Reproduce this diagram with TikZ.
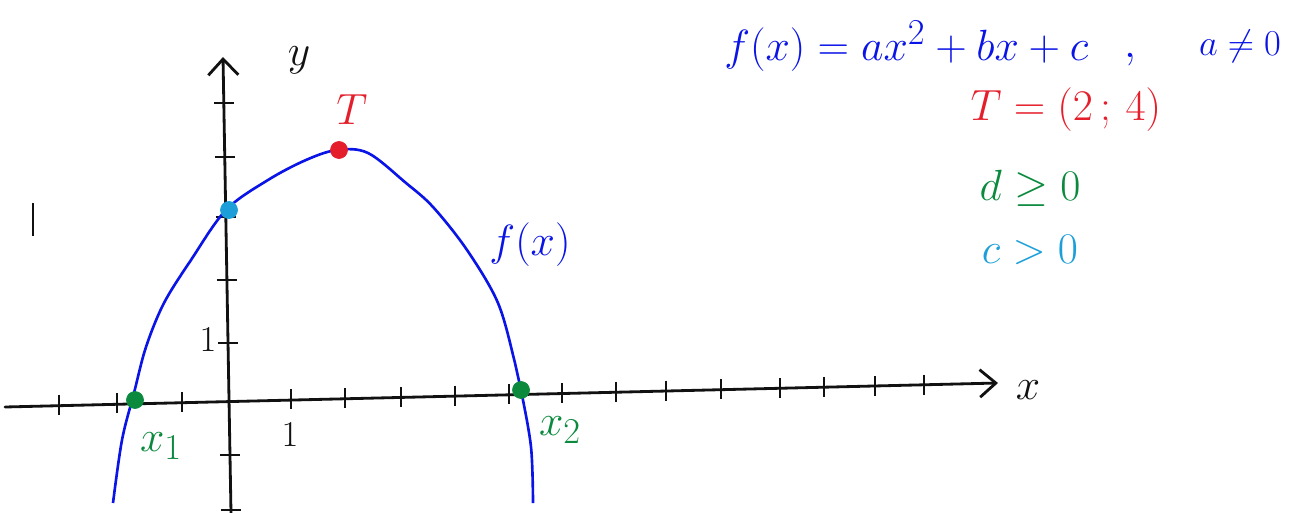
\documentclass[tikz,border=0pt]{standalone}
\usepackage{amsmath,amssymb}
\usepackage{xcolor}
\usepackage{tikz}
\usetikzlibrary{arrows.meta,positioning,calc}
\definecolor{PenBlue}{HTML}{0A14E6}
\definecolor{PenRed}{HTML}{E41E2B}
\definecolor{PenGreen}{HTML}{0B8A3E}
\definecolor{PenCyan}{HTML}{1C9FD8}
\definecolor{PenBlack}{HTML}{111111}

\begin{document}
\begin{tikzpicture}[x=0.02cm, y=-0.02cm]

%% ── helpers ───────────────────────────────────────────────
\tikzset{
  axis/.style={line width=1.6pt,PenBlack,line cap=round},
  tick/.style={line width=1.3pt,PenBlack},
  dot/.style={circle,draw=#1,fill=#1,minimum size=0.34cm,inner sep=0pt},
  pen/.style={inner sep=0pt,text=#1},
}

\useasboundingbox (0,0) rectangle (1293,513);

%% ── AXES ─────────────────────────────────────────────────
\coordinate (xs) at (5,407);
\coordinate (xe) at (998,383);
\coordinate (ys) at (231,513);
\coordinate (ye) at (223,57);
\draw[axis,-{Straight Barb[length=0.32cm,width=0.55cm]}] (xs) -- (xe);
\draw[axis,-{Straight Barb[length=0.32cm,width=0.6cm]}] (ys) -- (ye);

\foreach \t in {59,117,182,291,345,401,455,509,562,616,666,721,780,824,875,924}
  \draw[tick] (\t,{406-0.0232*(\t-5)-10}) -- ++(0,20);
\foreach \t in {103,157,217,280,343,455,510}
  \draw[tick] ({231-0.0175*(513-\t)-10},\t) -- ++(20,0);

\node[pen=PenBlack,font=\Huge] (ylab) at (299,60) {$y$};
\node[pen=PenBlack,font=\Huge] (xlab) at (1028,390) {$x$};
\node[pen=PenBlack,font=\huge] (xone) at (290,435) {$1$};
\node[pen=PenBlack,font=\huge] (yone) at (208,340) {$1$};

%% stray pen mark
\draw[line width=0.8pt,PenBlack] (33,203) -- (33,236);

%% ── PARABOLA ─────────────────────────────────────────────
\draw[PenBlue,line width=1.5pt] plot[smooth,tension=0.55] coordinates
  {(113,503) (122,440) (134,393) (146,347) (164,303) (191,260) (226,210)
   (268,180) (306,160) (337,150) (368,153) (406,183) (433,207) (467,250)
   (498,303) (515,363) (521,390) (531,447) (533,503)};

\node[dot=PenGreen] (rootA) at (135,400) {};
\node[dot=PenGreen] (rootB) at (521,390) {};
\node[dot=PenCyan]  (yint)  at (229,210) {};
\node[dot=PenRed]   (top)   at (339,150) {};

\node[pen=PenRed,font=\fontsize{34}{40}\selectfont] (tlab) at (352,110) {$T$};
\node[pen=PenBlue,font=\Huge] (flab) at (530,245) {$f(x)$};
\node[pen=PenGreen,font=\Huge] (xonelab) at (161,446) {$x_1$};
\node[pen=PenGreen,font=\Huge] (xtwolab) at (560,430) {$x_2$};

%% ── NOTES (top right) ────────────────────────────────────
\node[pen=PenBlue,font=\fontsize{28}{34}\selectfont,anchor=west] (fdef) at (724,46)
  {$f(x)=ax^2+bx+c$};
\node[pen=PenBlue,font=\fontsize{28}{34}\selectfont] (comma) at (1130,60) {$,$};
\node[pen=PenBlue,font=\huge] (anz) at (1240,46) {$a\neq0$};
\node[pen=PenRed,font=\fontsize{30}{36}\selectfont] (tdef) at (1066,110) {$T=(2\,;\,4)$};
\node[pen=PenGreen,font=\fontsize{34}{40}\selectfont] (ddef) at (1030,188) {$d\geq0$};
\node[pen=PenCyan,font=\fontsize{23}{28}\selectfont] (cdef) at (1030,250) {$c>0$};

\end{tikzpicture}
\end{document}
